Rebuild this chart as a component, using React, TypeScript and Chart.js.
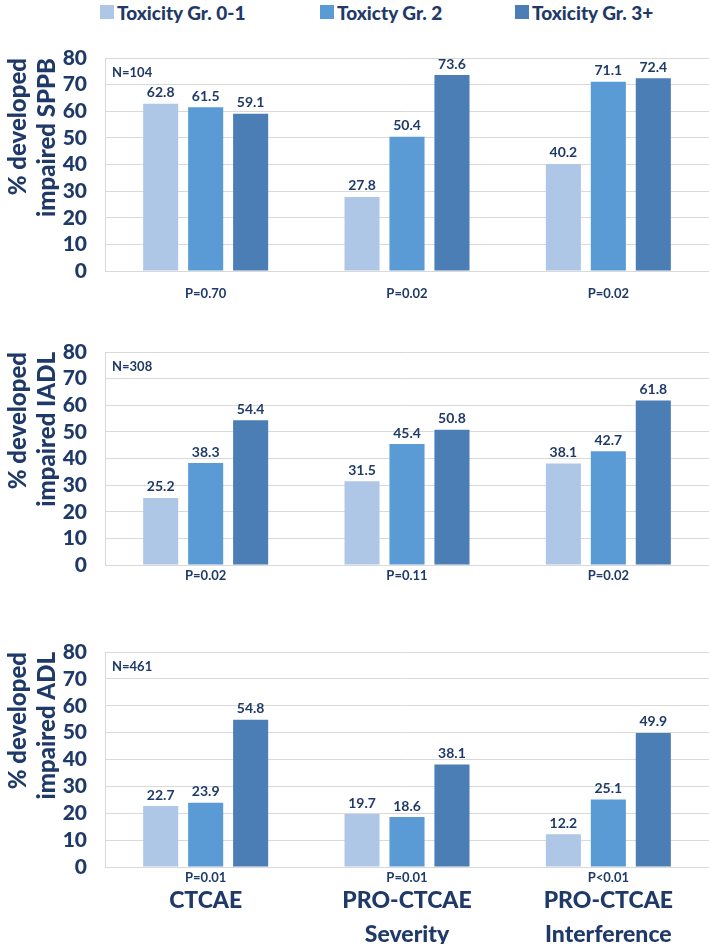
import { useEffect, useRef } from 'react'
import { Chart, registerables } from 'chart.js'

Chart.register(...registerables)

const FONT = 'Lato, "Open Sans", sans-serif'
const NAVY = '#1F3A68'
const GRID = '#D9D9D9'
const HEAVY = '900'

const seriesLabels = ['Toxicity Gr. 0-1', 'Toxicty Gr. 2', 'Toxicity Gr. 3+']
const seriesColors = ['#AFC7E7', '#5B9BD5', '#4A7EB4']
const categories = ['CTCAE', ['PRO-CTCAE', 'Severity'], ['PRO-CTCAE', 'Interference']]
const yTicks = [0, 80, 10] // min, max, step

// SPPB
const sppbGr01 = [62.8, 27.8, 40.2]
const sppbGr2 = [61.5, 50.4, 71.1]
const sppbGr3 = [59.1, 73.6, 72.4]
const sppbP = ['P=0.70', 'P=0.02', 'P=0.02']

// IADL
const iadlGr01 = [25.2, 31.5, 38.1]
const iadlGr2 = [38.3, 45.4, 42.7]
const iadlGr3 = [54.4, 50.8, 61.8]
const iadlP = ['P=0.02', 'P=0.11', 'P=0.02']

// ADL
const adlGr01 = [22.7, 19.7, 12.2]
const adlGr2 = [23.9, 18.6, 25.1]
const adlGr3 = [54.8, 38.1, 49.9]
const adlP = ['P=0.01', 'P=0.01', 'P<0.01']

const panelNotes = ['N=104', 'N=308', 'N=461']
const panelTitles = [
  ['% developed', 'impaired SPPB'],
  ['% developed', 'impaired IADL'],
  ['% developed', 'impaired ADL'],
]

// value labels above bars + the N= note in the plot corner
const panelNote = {
  id: 'panelNote',
  afterDatasetsDraw(chart: any, _args: any, opts: any) {
    const ctx = chart.ctx
    ctx.save()
    ctx.fillStyle = NAVY
    ctx.font = `bold 14px ${FONT}`
    ctx.textAlign = 'center'
    ctx.textBaseline = 'bottom'
    chart.data.datasets.forEach((ds: any, i: number) => {
      chart.getDatasetMeta(i).data.forEach((bar: any, j: number) => {
        ctx.fillText(ds.data[j].toFixed(1), bar.x, bar.y - 4)
      })
    })
    if (opts.text) {
      ctx.font = `bold 13px ${FONT}`
      ctx.textAlign = 'left'
      ctx.textBaseline = 'middle'
      ctx.fillText(opts.text, chart.chartArea.left + 7, chart.chartArea.top + 15)
    }
    ctx.restore()
  },
}

interface PanelProps {
  top: number
  height: number
  padTop: number
  xHeight: number
  xPad: number
  pLabels: string[]
  values: number[][]
  note: string
  title: string[]
  withCategories?: boolean
}

function Panel({ top, height, padTop, xHeight, xPad, pLabels, values, note, title, withCategories }: PanelProps) {
  const chartRef = useRef<HTMLCanvasElement>(null)
  const chartInstance = useRef<Chart | null>(null)

  useEffect(() => {
    if (!chartRef.current) return
    if (chartInstance.current) chartInstance.current.destroy()
    const ctx = chartRef.current.getContext('2d')
    if (!ctx) return

    const scales: any = {
      x: {
        weight: 0,
        grid: { display: false, drawTicks: false },
        border: { display: true, color: GRID },
        ticks: { color: NAVY, font: { family: FONT, size: 13, weight: 'bold' }, padding: xPad, maxRotation: 0 },
        afterFit: (s: any) => { s.height = xHeight },
      },
      y: {
        min: yTicks[0],
        max: yTicks[1],
        grid: { color: GRID, drawTicks: false },
        border: { display: true, color: GRID },
        ticks: {
          stepSize: yTicks[2],
          autoSkip: false,
          color: NAVY,
          padding: 18,
          font: { family: FONT, size: 21, weight: HEAVY, lineHeight: 1 },
        },
        title: {
          display: true,
          text: title,
          align: 'end',
          color: NAVY,
          padding: { top: 4, bottom: 0 },
          font: { family: FONT, size: 24, weight: HEAVY, lineHeight: 1.2 },
        },
        afterFit: (s: any) => { s.width = 105 },
      },
    }
    if (withCategories) {
      scales.x2 = {
        type: 'category',
        position: 'bottom',
        weight: 1,
        labels: categories,
        grid: { display: false, drawTicks: false },
        border: { display: false },
        ticks: { color: NAVY, padding: 0, maxRotation: 0, font: { family: FONT, size: 23, weight: HEAVY, lineHeight: 1.5 } },
        afterFit: (s: any) => { s.height = 61 },
      }
    }

    chartInstance.current = new Chart(ctx, {
      type: 'bar',
      data: {
        labels: pLabels,
        datasets: seriesLabels.map((label, i) => ({
          label,
          data: values[i],
          backgroundColor: seriesColors[i],
          categoryPercentage: 0.67,
          barPercentage: 0.78,
        })),
      },
      options: {
        responsive: true,
        maintainAspectRatio: false,
        animation: false,
        layout: { padding: { top: padTop, left: 0, right: 0, bottom: 0 } },
        plugins: {
          legend: { display: false },
          tooltip: { enabled: false },
          panelNote: { text: note },
        } as any,
        scales,
      },
      plugins: [panelNote],
    })

    return () => {
      if (chartInstance.current) {
        chartInstance.current.destroy()
        chartInstance.current = null
      }
    }
  }, [])

  return (
    <div style={{ position: 'absolute', left: 0, top, width: 709, height }}>
      <canvas ref={chartRef} />
    </div>
  )
}

const legendLeft = [100, 320, 515]

export default function App() {
  return (
    <div style={{ position: 'absolute', left: 0, top: 0, width: 709, height: 944, background: '#fff', overflow: 'hidden' }}>
      {seriesLabels.map((label, i) => (
        <div
          key={label}
          style={{
            position: 'absolute',
            left: legendLeft[i],
            top: 0,
            height: 24,
            display: 'flex',
            alignItems: 'center',
            gap: 3,
            fontFamily: FONT,
            fontWeight: HEAVY,
            fontSize: 19,
            color: NAVY,
            whiteSpace: 'nowrap',
          }}
        >
          <span style={{ display: 'inline-block', width: 14, height: 14, background: seriesColors[i] }} />
          <span>{label}</span>
        </div>
      ))}
      <Panel top={0} height={305} padTop={58} xHeight={34} xPad={15} pLabels={sppbP}
        values={[sppbGr01, sppbGr2, sppbGr3]} note={panelNotes[0]} title={panelTitles[0]} />
      <Panel top={305} height={290} padTop={47} xHeight={30} xPad={3} pLabels={iadlP}
        values={[iadlGr01, iadlGr2, iadlGr3]} note={panelNotes[1]} title={panelTitles[1]} />
      <Panel top={595} height={349} padTop={57} xHeight={16} xPad={3} pLabels={adlP}
        values={[adlGr01, adlGr2, adlGr3]} note={panelNotes[2]} title={panelTitles[2]} withCategories />
    </div>
  )
}
